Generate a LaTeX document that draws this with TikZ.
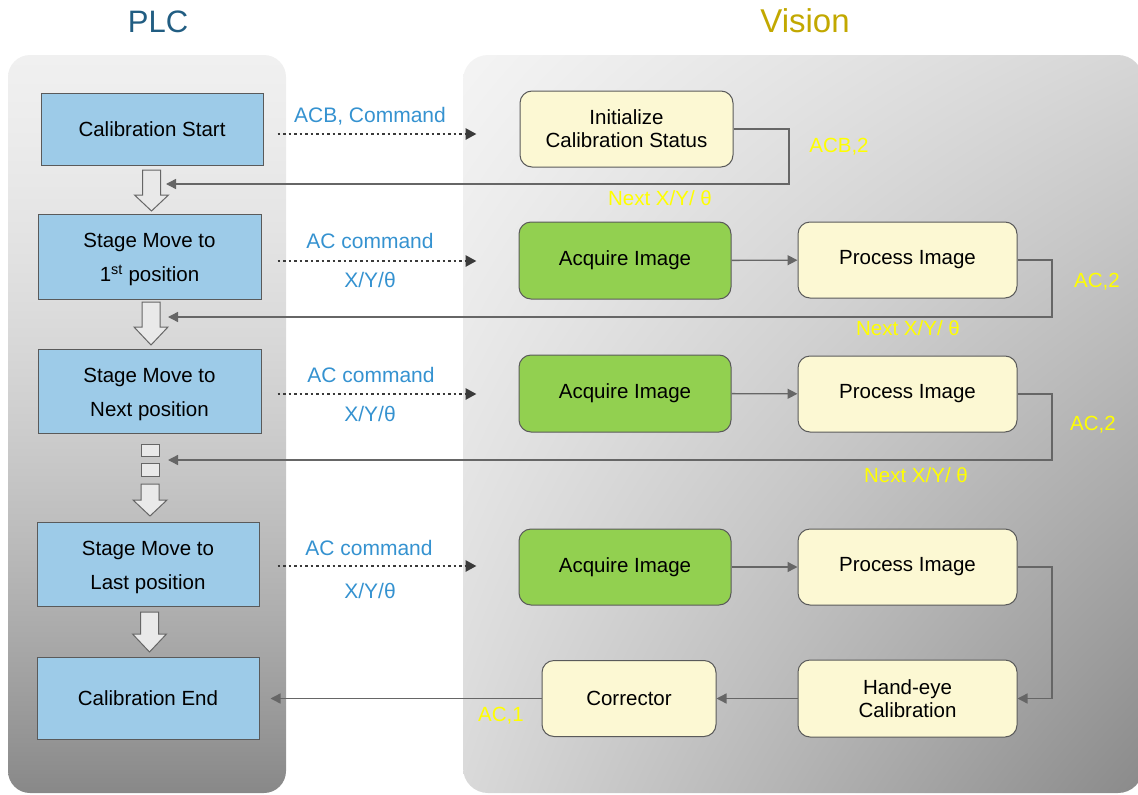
\documentclass[tikz,border=0pt]{standalone}
\usepackage{fontspec}
\setmainfont{Liberation Sans}
\usetikzlibrary{arrows.meta,calc}

% panel fills: a darkening vertical ramp and a bilinear diagonal ramp
\pgfdeclarefunctionalshading{plcfill}{\pgfpoint{0bp}{0bp}}{\pgfpoint{100bp}{100bp}}{}{
exch pop 75 exch sub 50 div dup dup mul 68.3 mul exch 35.7 mul add 240 exch sub 255 div dup dup
}
\pgfdeclarefunctionalshading{visionfill}{\pgfpoint{0bp}{0bp}}{\pgfpoint{100bp}{100bp}}{}{
75 exch sub 50 div exch 25 sub 50 div 2 copy mul 49 mul exch 30 mul add exch 27 mul add 244 exch sub 255 div dup dup
}

\definecolor{boxline}{HTML}{5A5A5A}
\definecolor{plcblue}{HTML}{9DCBE8}
\definecolor{visyellow}{HTML}{FCF8D3}
\definecolor{visgreen}{HTML}{92D050}
\definecolor{cmdblue}{HTML}{3592D0}
\definecolor{retyellow}{HTML}{FFFF00}
\definecolor{plctitle}{HTML}{215D82}
\definecolor{vistitle}{HTML}{C2A800}
\definecolor{linkgray}{HTML}{666666}
\definecolor{dotgray}{HTML}{3A3A3A}
\definecolor{blockfill}{HTML}{E9E9E9}

\newcommand\boxfont{\fontsize{20.5}{23}\selectfont}
\newcommand\tallline{\rule{0pt}{21pt}}

\tikzset{
  bluebox/.style={draw=boxline, fill=plcblue, line width=1pt, align=center,
    inner sep=0pt, minimum width=222pt, font=\fontsize{20.5}{34}\selectfont},
  visbox/.style={draw=boxline, fill=visyellow, line width=1pt, rounded corners=12pt,
    align=center, inner sep=0pt, font=\boxfont},
  acqbox/.style={visbox, fill=visgreen, minimum width=212pt, minimum height=77pt},
  procbox/.style={visbox, minimum width=219pt, minimum height=76pt},
  cmd/.style={draw=dotgray, line width=2.9pt, dash pattern=on 2.9pt off 2.6pt,
    -{Triangle[length=11pt,width=11pt]}},
  link/.style={draw=linkgray, line width=1.4pt, -{Triangle[length=10pt,width=10pt]}},
  cmdlabel/.style={text=cmdblue, font=\fontsize{21}{25}\selectfont, inner sep=0pt},
  retlabel/.style={text=retyellow, font=\fontsize{20.5}{25}\selectfont, inner sep=0pt},
  blockarr/.style={draw=linkgray, fill=blockfill, line width=1pt},
}

% hollow downward block arrow: centre x, shaft top, head start, tip
\newcommand\flowdown[4]{%
  \draw[blockarr] (#1-9,#2) -- (#1+9,#2) -- (#1+9,#3) -- (#1+17,#3) -- (#1,#4)
    -- (#1-17,#3) -- (#1-9,#3) -- cycle;}

\begin{document}
\begin{tikzpicture}[x=1pt,y=-1pt]
\useasboundingbox (0,0) rectangle (1138,795);

% panels
\path[shading=plcfill, rounded corners=22pt] (8,55) rectangle (286,793);
\path[shading=visionfill, rounded corners=25pt] (463,55) rectangle (1143,793);

% titles
\node[text=plctitle, font=\fontsize{31}{36}\selectfont] (plc) at (158,22) {PLC};
\node[text=vistitle, font=\fontsize{33}{38}\selectfont] (vis) at (805,21) {Vision};

% PLC steps
\node[bluebox, minimum height=72pt] (cs) at (152,129) {Calibration Start};
\node[bluebox, minimum width=223pt, minimum height=85pt] (s1) at (149.5,256.5)
  {\tallline Stage Move to\\1\textsuperscript{st} position};
\node[bluebox, minimum width=223pt, minimum height=84pt] (sn) at (149.5,391)
  {\tallline Stage Move to\\Next position};
\node[bluebox, minimum height=84pt] (sl) at (148,564)
  {\tallline Stage Move to\\Last position};
\node[bluebox, minimum height=82pt] (ce) at (148,698.5) {Calibration End};

% flow between PLC steps
\flowdown{151.5}{170}{195}{211}
\flowdown{151}{302}{327}{345}
\draw[blockarr] (141,444) rectangle (159,456);
\draw[blockarr] (141,463) rectangle (159,476);
\flowdown{150}{484}{500}{516}
\flowdown{149.5}{612}{634}{652}

% Vision steps
\node[visbox, minimum width=213pt, minimum height=76pt] (init) at (626.5,129)
  {Initialize\\Calibration Status};
\node[acqbox] (acq1) at (625,260.5) {Acquire Image};
\node[procbox] (proc1) at (907.5,260) {Process Image};
\node[acqbox] (acq2) at (625,393.5) {Acquire Image};
\node[procbox] (proc2) at (907.5,394) {Process Image};
\node[acqbox, minimum height=76pt] (acq3) at (625,567) {Acquire Image};
\node[procbox] (proc3) at (907.5,567) {Process Image};
\node[procbox, minimum height=77pt] (hand) at (907.5,698.5) {Hand-eye\\Calibration};
\node[visbox, minimum width=174pt, minimum height=76pt] (corr) at (629,698.5) {Corrector};

% commands from PLC to Vision
\draw[cmd] ($(cs.east)+(14,5)$) -- ($(init.west)+(-43,5)$);
\draw[cmd] ($(s1.east)+(16,4.5)$) -- ($(acq1.west)+(-42,0.5)$);
\draw[cmd] ($(sn.east)+(16,3)$) -- ($(acq2.west)+(-42,0.5)$);
\draw[cmd] ($(sl.east)+(18,2)$) -- ($(acq3.west)+(-42,-1)$);
\node[cmdlabel] (l0) at (370,116) {ACB, Command};
\node[cmdlabel] (l1a) at (370,241) {AC command};
\node[cmdlabel] (l1b) at (370,280) {X/Y/θ};
\node[cmdlabel] (l2a) at (371,375) {AC command};
\node[cmdlabel] (l2b) at (370,414) {X/Y/θ};
\node[cmdlabel] (l3a) at (369,548) {AC command};
\node[cmdlabel] (l3b) at (370,591) {X/Y/θ};

% image processing chain
\draw[link] (acq1) -- (proc1);
\draw[link] (acq2) -- (proc2);
\draw[link] (acq3) -- (proc3);
\draw[link] (hand) -- (corr);

% replies back to PLC
\coordinate (back0) at (166,184);
\coordinate (back1) at (168,317);
\coordinate (back2) at (168,460);
\coordinate (back3) at ($(ce.east)+(11,0)$);
\draw[link] (init.east) -- (789,129) -- (789,184) -- (back0);
\draw[link] (proc1.east) -- (1052,260) -- (1052,317) -- (back1);
\draw[link] (proc2.east) -- (1052,394) -- (1052,460) -- (back2);
\draw[link] (proc3.east) -- (1052,567) -- (1052,698.5) -- (hand.east);
\draw[link] (corr.west) -- (back3);

\node[retlabel] (r0a) at (839,147) {ACB,2};
\node[retlabel] (r0b) at (660,198) {Next X/Y/ θ};
\node[retlabel] (r1a) at (1097,282) {AC,2};
\node[retlabel] (r1b) at (908,328) {Next X/Y/ θ};
\node[retlabel] (r2a) at (1093,425) {AC,2};
\node[retlabel] (r2b) at (916,475) {Next X/Y/ θ};
\node[retlabel] (r3) at (501,716) {AC,1};
\end{tikzpicture}
\end{document}
